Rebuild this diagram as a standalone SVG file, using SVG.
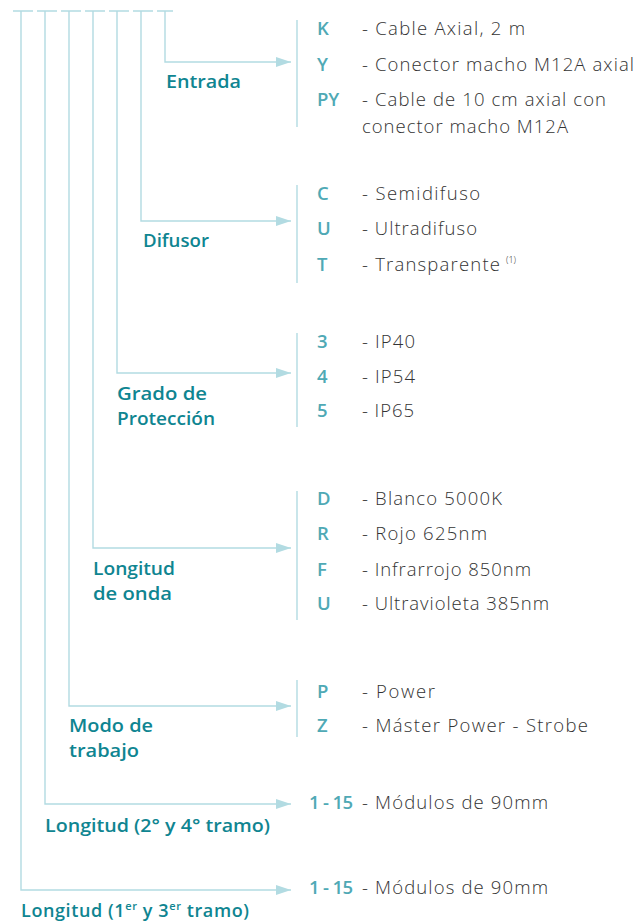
<svg xmlns="http://www.w3.org/2000/svg" width="639" height="923" viewBox="0 0 639 923">
<defs>
<style>
.ln{fill:none;stroke:#b2dbe2;stroke-width:1.4}
.br{fill:none;stroke:#b2dbe2;stroke-width:1.4}
.lbl{font-family:"Open Sans","Liberation Sans",sans-serif;font-weight:600;font-size:18px;fill:#0f8591}
.code{font-family:"Open Sans","Liberation Sans",sans-serif;font-weight:600;font-size:18.5px;fill:#4fa9b5}
.desc{font-family:"Open Sans","Liberation Sans",sans-serif;font-weight:300;font-size:18.5px;fill:#333333}
.sup{font-size:9px}
.sup2{font-size:11px}
</style>
<marker id="ah" viewBox="0 0 15 10" refX="15" refY="5" markerWidth="15" markerHeight="10" markerUnits="userSpaceOnUse" orient="auto">
<path d="M0,0 L15,5 L0,10 Z" fill="#b2dbe2"/>
</marker>
</defs>
<rect width="639" height="923" fill="#ffffff"/>

<g id="connectors">
<path class="ln" d="M13,11H33M37,11H57M61,11H81M85,11H105M109,11H129M133,11H153M157,11H173"/>
<polyline class="ln" points="165,11 165,62 291,62" marker-end="url(#ah)"/>
<polyline class="ln" points="141,11 141,221 291,221" marker-end="url(#ah)"/>
<polyline class="ln" points="117,11 117,373 291,373" marker-end="url(#ah)"/>
<polyline class="ln" points="93,11 93,548 291,548" marker-end="url(#ah)"/>
<polyline class="ln" points="69,11 69,706 291,706" marker-end="url(#ah)"/>
<polyline class="ln" points="45,11 45,804 291,804" marker-end="url(#ah)"/>
<polyline class="ln" points="21,11 21,890 291,890" marker-end="url(#ah)"/>
<line class="br" x1="297" y1="20" x2="297" y2="127"/>
<line class="br" x1="297" y1="185" x2="297" y2="283"/>
<line class="br" x1="297" y1="333" x2="297" y2="427"/>
<line class="br" x1="297" y1="491" x2="297" y2="620"/>
<line class="br" x1="297" y1="680" x2="297" y2="737"/>
</g>

<g id="entrada">
<text class="lbl" x="166" y="88" textLength="75" lengthAdjust="spacingAndGlyphs">Entrada</text>
<text class="code" x="317" y="35">K</text><text class="desc" x="362" y="35" textLength="163">- Cable Axial, 2 m</text>
<text class="code" x="317" y="71">Y</text><text class="desc" x="362" y="71" textLength="272">- Conector macho M12A axial</text>
<text class="code" x="317" y="106">PY</text><text class="desc" x="362" y="106" textLength="244">- Cable de 10 cm axial con</text>
<text class="desc" x="362" y="133" textLength="206">conector macho M12A</text>
</g>

<g id="difusor">
<text class="lbl" x="143" y="247" textLength="66" lengthAdjust="spacingAndGlyphs">Difusor</text>
<text class="code" x="317" y="200">C</text><text class="desc" x="362" y="200" textLength="118">- Semidifuso</text>
<text class="code" x="317" y="235">U</text><text class="desc" x="362" y="235" textLength="115">- Ultradifuso</text>
<text class="code" x="317" y="271">T</text><text class="desc" x="362" y="271"><tspan textLength="138">- Transparente</tspan> <tspan class="sup" dy="-8">(1)</tspan></text>
</g>

<g id="proteccion">
<text class="lbl" x="117" y="400" textLength="90" lengthAdjust="spacingAndGlyphs">Grado de</text>
<text class="lbl" x="117" y="425" textLength="98" lengthAdjust="spacingAndGlyphs">Protección</text>
<text class="code" x="317" y="348">3</text><text class="desc" x="362" y="348" textLength="53">- IP40</text>
<text class="code" x="317" y="383">4</text><text class="desc" x="362" y="383" textLength="53">- IP54</text>
<text class="code" x="317" y="417">5</text><text class="desc" x="362" y="417" textLength="52">- IP65</text>
</g>

<g id="onda">
<text class="lbl" x="93" y="575" textLength="82" lengthAdjust="spacingAndGlyphs">Longitud</text>
<text class="lbl" x="93" y="600" textLength="79" lengthAdjust="spacingAndGlyphs">de onda</text>
<text class="code" x="317" y="505">D</text><text class="desc" x="362" y="505" textLength="140">- Blanco 5000K</text>
<text class="code" x="317" y="540">R</text><text class="desc" x="362" y="540" textLength="125">- Rojo 625nm</text>
<text class="code" x="317" y="576">F</text><text class="desc" x="362" y="576" textLength="169">- Infrarrojo 850nm</text>
<text class="code" x="317" y="610">U</text><text class="desc" x="362" y="610" textLength="187">- Ultravioleta 385nm</text>
</g>

<g id="modo">
<text class="lbl" x="69" y="732" textLength="84" lengthAdjust="spacingAndGlyphs">Modo de</text>
<text class="lbl" x="69" y="757" textLength="70" lengthAdjust="spacingAndGlyphs">trabajo</text>
<text class="code" x="317" y="698">P</text><text class="desc" x="362" y="698" textLength="73">- Power</text>
<text class="code" x="317" y="732">Z</text><text class="desc" x="362" y="732" textLength="226">- Máster Power - Strobe</text>
</g>

<g id="longitud24">
<text class="lbl" x="45" y="832" textLength="225" lengthAdjust="spacingAndGlyphs">Longitud (2° y 4° tramo)</text>
<text class="code" x="309" y="809" textLength="44">1 - 15</text><text class="desc" x="362" y="809" textLength="186">- Módulos de 90mm</text>
</g>

<g id="longitud13">
<text class="lbl" x="21" y="917" textLength="228" lengthAdjust="spacing">Longitud (1<tspan class="sup2" dy="-7">er</tspan><tspan dy="7"> y 3</tspan><tspan class="sup2" dy="-7">er</tspan><tspan dy="7"> tramo)</tspan></text>
<text class="code" x="309" y="894" textLength="44">1 - 15</text><text class="desc" x="362" y="894" textLength="186">- Módulos de 90mm</text>
</g>
</svg>
